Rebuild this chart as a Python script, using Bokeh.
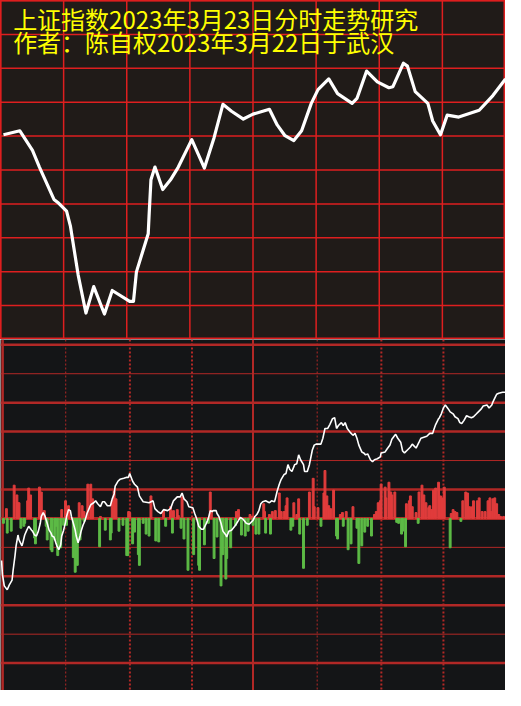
from bokeh.plotting import figure
from bokeh.models import Range1d, Span, Label
from bokeh.layouts import column
from bokeh.embed import file_html
from bokeh.resources import INLINE

# ---------------- data ----------------
title1 = "上证指数2023年3月23日分时走势研究"
title2 = "作者：陈自权2023年3月22日于武汉"

# top panel: projected path (minutes, level)
top_t = [1.4, 9.2, 15.2, 18.5, 25.4, 27.7, 31.4, 33.2, 36.9, 40.6, 44.3, 49.4, 53.1,
         61.4, 63.2, 64.6, 70.2, 70.6, 71.5, 73.4, 77.1, 80.8, 84.5, 90.9, 96.9,
         101.5, 105.7, 109.8, 115.4, 120.0, 127.8, 131.5, 135.2, 139.4, 143.1,
         147.7, 150.9, 156.0, 160.2, 167.1, 169.4, 174.0, 179.1, 184.6, 186.5,
         191.5, 193.4, 197.1, 203.1, 205.4, 209.1, 212.3, 217.8, 227.5, 234.0, 240.0]
top_v = [209, 213, 193, 176, 143, 139, 131, 116, 66, 27, 54, 26, 50,
         39, 39, 69, 108, 126, 163, 176, 153, 163, 176, 204, 175,
         206, 240, 233, 225, 230, 235, 219, 208, 203, 213,
         241, 255, 266, 251, 241, 246, 274, 263, 257, 258,
         282, 279, 253, 241, 223, 209, 229, 227, 234, 249, 266]

# bottom panel: intraday change in basis points
line_t = [0.5, 0.9, 1.8, 3.2, 4.2, 5.5, 6.0, 6.9, 7.4, 8.3, 8.8, 10.2, 10.6, 11.5, 12.5,
          13.4, 14.8, 15.2, 16.2, 17.1, 18.0, 18.9, 19.4, 20.3, 21.2, 22.2, 23.1, 24.0,
          24.5, 25.4, 26.3, 26.8, 27.7, 28.6, 29.1, 30.0, 30.9, 31.4, 32.3, 33.2, 33.7,
          34.6, 35.5, 36.0, 36.9, 37.8, 38.3, 39.2, 40.2, 41.1, 42.5, 42.9, 44.3, 45.2,
          46.2, 47.5, 48.5, 49.4, 50.8, 52.2, 53.1, 54.0, 54.5, 55.8, 56.8, 58.6, 60.0,
          60.8, 61.4, 62.8, 63.7, 65.1, 66.0, 66.9, 67.8, 70.6, 72.5, 73.4, 74.8, 76.2,
          77.5, 79.4, 80.8, 82.2, 84.0, 85.4, 86.3, 87.2, 88.6, 89.5, 91.4, 92.3, 93.2,
          94.2, 95.5, 96.5, 97.8, 98.8, 99.7, 100.6, 101.1, 102.5, 102.9, 103.8, 104.8,
          105.7, 107.1, 107.5, 108.5, 109.8, 111.7, 113.1, 114.0, 115.4, 116.8, 118.2,
          120.0, 120.9, 121.8, 122.8, 123.7, 124.6, 126.0, 126.9, 127.8, 128.8, 130.2,
          130.6, 131.5, 132.5, 133.4, 134.8, 135.7, 136.6, 137.5, 138.5, 139.8, 140.8,
          141.7, 142.6, 144.0, 144.5, 145.8, 146.8, 148.2, 149.1, 150.0, 150.9, 152.3,
          153.2, 154.2, 155.5, 156.5, 157.8, 158.8, 159.7, 160.6, 162.0, 162.9, 163.8,
          164.8, 166.2, 167.5, 168.5, 169.4, 170.3, 171.7, 172.6, 173.5, 174.5, 175.8,
          176.8, 177.7, 179.1, 180.5, 180.9, 182.8, 183.7, 185.1, 186.0, 187.4, 187.8,
          188.8, 190.2, 191.1, 192.0, 193.4, 194.8, 195.7, 196.6, 197.5, 198.9, 199.8,
          201.2, 202.6, 204.0, 205.4, 205.8, 206.8, 208.2, 208.6, 209.5, 210.5, 211.4,
          212.8, 213.7, 215.1, 216.0, 217.4, 218.3, 219.2, 220.2, 221.5, 222.5, 223.8,
          224.8, 226.2, 227.1, 228.5, 229.4, 231.2, 232.2, 233.5, 234.0, 234.9, 235.8,
          236.8, 238.6, 240.0]
line_bp = [-43, -57, -69, -73, -68, -63, -53, -38, -28, -17, -22, -28, -25, -17, -12,
           -8, -12, -13, -17, -18, -13, -5, 2, 6, 2, -5, -12, -15,
           -18, -19, -25, -28, -32, -27, -18, -12, -4, 2, 9, 8, 2,
           -5, -12, -18, -25, -18, -13, -7, -2, 5, 12, 14, 16, 18,
           15, 12, 17, 17, 13, 13, 20, 25, 33, 38, 40, 41, 42,
           42, 46, 38, 35, 32, 23, 20, 17, 16, 18, 10, 7, 5,
           9, 8, 10, 18, 22, 22, 26, 20, 17, 12, 11, 5, 0,
           -8, -11, -11, -5, 0, 8, 7, 8, 8, 5, 2, -5,
           -13, -17, -19, -13, -12, -7, -2, 1, -1, -5, -6,
           -2, 2, 4, 8, 15, 17, 18, 17, 16, 18, 17,
           20, 28, 35, 40, 45, 46, 55, 50, 48, 55, 56,
           65, 60, 55, 48, 48, 55, 70, 75, 76, 76, 76,
           82, 92, 92, 96, 102, 103, 92, 95, 98, 95, 98,
           92, 88, 85, 87, 82, 75, 68, 67, 65, 66, 60,
           58, 60, 61, 63, 67, 68, 71, 75, 81, 85, 86,
           82, 78, 69, 67, 70, 73, 76, 74, 72, 78, 82,
           83, 84, 87, 87, 90, 96, 102, 103, 107, 113, 116,
           112, 109, 107, 104, 102, 98, 97, 100, 105, 104, 103,
           104, 107, 109, 112, 115, 116, 113, 116, 119, 123, 127,
           128, 129, 129]

# volume bars: buying (up) and selling (down)
up_t = [2.8, 6.5, 7.8, 8.3, 8.8, 12.9, 13.4, 14.3, 18.5, 19.4, 20.8, 29.1, 30.9, 32.3,
        37.4, 38.8, 39.7, 41.5, 42.9, 43.8, 47.5, 53.1, 54.0, 54.9, 60.9, 61.4, 71.5,
        77.5, 80.8, 82.2, 84.0, 84.5, 86.3, 99.7, 100.2, 112.1, 113.1, 118.6, 119.5,
        125.1, 125.5, 127.8, 129.2, 130.6, 132.5, 133.4, 134.8, 135.7, 136.2, 139.4,
        140.8, 141.7, 146.8, 148.6, 149.1, 150.9, 153.7, 154.2, 155.1, 156.0, 156.9,
        158.3, 161.5, 162.5, 164.3, 167.5, 177.7, 178.6, 179.5, 180.5, 180.9, 182.8,
        183.2, 184.6, 185.5, 186.0, 187.4, 192.9, 194.3, 194.8, 195.7, 197.5, 198.9,
        200.3, 201.2, 202.2, 203.5, 204.0, 204.9, 205.8, 206.8, 208.2, 209.1, 210.0,
        210.9, 214.2, 215.1, 216.0, 216.9, 219.7, 221.1, 222.0, 222.9, 224.3, 224.8,
        226.6, 227.5, 228.9, 230.3, 231.7, 232.6, 233.1, 234.0, 234.9, 235.8, 236.8,
        237.7, 239.1]
up_vol = [10, 34, 24, 16, 16, 18, 31, 24, 32, 27, 8, 9, 18, 13,
          16, 13, 7, 35, 35, 20, 2, 18, 28, 20, 7, 6, 23,
          8, 12, 8, 9, 3, 22, 27, 8, 7, 9, 4, 2,
          15, 7, 4, 7, 8, 26, 7, 7, 13, 21, 16,
          4, 20, 27, 41, 12, 11, 26, 49, 23, 13, 10,
          29, 4, 6, 7, 12, 4, 7, 16, 18, 35, 32,
          21, 37, 27, 24, 27, 15, 18, 23, 12, 6, 27,
          34, 24, 16, 11, 13, 9, 29, 31, 37, 23, 21,
          32, 5, 9, 7, 6, 18, 27, 26, 12, 12, 18,
          18, 21, 7, 7, 18, 21, 7, 20, 21, 15, 4,
          2, 2]
dn_t = [1.4, 3.2, 5.1, 9.7, 11.1, 11.5, 16.2, 16.6, 21.7, 22.2, 24.0, 24.5, 25.8, 26.3,
        27.2, 28.6, 30.0, 31.4, 34.6, 35.5, 36.5, 37.8, 39.7, 47.1, 49.8, 52.2, 52.6,
        56.3, 58.2, 60.0, 60.5, 62.8, 63.7, 65.5, 66.0, 67.8, 69.2, 70.6, 73.8, 75.2,
        78.5, 81.7, 85.8, 87.2, 89.1, 91.8, 94.2, 94.6, 96.9, 98.8, 101.5, 102.9, 104.8,
        105.7, 107.1, 107.5, 109.4, 111.7, 114.5, 116.3, 117.7, 120.0, 121.4, 122.8,
        126.0, 128.3, 138.0, 138.9, 142.2, 144.0, 145.8, 152.3, 159.7, 160.2, 162.9,
        165.2, 166.6, 169.4, 170.3, 171.7, 173.1, 174.5, 176.3, 188.3, 189.2, 190.6,
        191.1, 192.5, 198.5, 213.7, 218.8]
dn_vol = [-5, -15, -13, -10, -8, -5, -20, -26, -8, -22, -32, -34, -22, -8,
          -38, -30, -7, -7, -40, -55, -48, -22, -3, -29, -12, -22, -15,
          -13, -7, -38, -38, -26, -14, -37, -48, -5, -16, -18, -23, -24,
          -8, -15, -10, -21, -53, -37, -48, -53, -27, -5, -41, -19, -69,
          -37, -62, -41, -30, -7, -17, -18, -13, -7, -16, -16,
          -15, -16, -12, -8, -16, -51, -7, -8, -18, -21, -8,
          -32, -26, -10, -46, -28, -14, -8, -18, -4, -5, -16,
          -13, -29, -5, -30, -3]

# ---------------- style ----------------
W = 505
H_TOP = 339
H_BOT = 351
TOP_BG = "#201b18"
BOT_BG = "#141517"
GRID_RED = "#de1f1f"
DARK_RED = "#b22826"
UP_RED = "#e03c3c"
DN_GREEN = "#5dbb46"
CJK = "Noto Sans CJK SC"

# ---------------- top panel ----------------
p1 = figure(width=W, height=H_TOP, x_range=Range1d(0, 240), y_range=Range1d(0, 346),
            output_backend="svg", toolbar_location=None, min_border=0,
            x_axis_location=None, y_axis_location=None,
            background_fill_color=TOP_BG, border_fill_color=TOP_BG,
            outline_line_color=GRID_RED, outline_line_width=2)
p1.grid.visible = False
for k in range(11):
    p1.add_layout(Span(location=k * 34.6, dimension="width", line_color=GRID_RED,
                       line_width=1.5, level="underlay"))
for k in range(9):
    p1.add_layout(Span(location=k * 30, dimension="height", line_color=GRID_RED,
                       line_width=1.5, level="underlay"))

p1.line(top_t, top_v, line_color="white", line_width=3.2, line_join="round")

for txt, yy in ((title1, 328), (title2, 304)):
    p1.add_layout(Label(x=6, y=yy, text=txt, text_font=CJK, text_font_size="24px",
                        text_color="#ffff00", text_baseline="middle"))

# ---------------- bottom panel ----------------
p2 = figure(width=W, height=H_BOT, x_range=Range1d(0, 240), y_range=Range1d(-176, 183),
            output_backend="svg", toolbar_location=None, min_border=0,
            x_axis_location=None, y_axis_location=None,
            background_fill_color=BOT_BG, border_fill_color=BOT_BG,
            outline_line_color=None)
p2.grid.visible = False
p2.extra_y_ranges = {"vol": Range1d(-176, 183)}

for k in range(-5, 7):
    thin = (k - 2) % 3 == 0
    lw = 1 if thin else 2.5
    if k == 0:
        lw = 3
    p2.add_layout(Span(location=k * 29.6, dimension="width", line_color=DARK_RED,
                       line_width=lw, level="underlay"))

p2.add_layout(Span(location=1.0, dimension="height", line_color=DARK_RED,
                   line_width=2.5, level="underlay"))
p2.add_layout(Span(location=120, dimension="height", line_color=DARK_RED,
                   line_width=2, level="underlay"))
for loc, lw in ((31, 1), (61.5, 2), (91, 2), (150.5, 1), (181, 2), (210.5, 2)):
    p2.add_layout(Span(location=loc, dimension="height", line_color=DARK_RED,
                       line_width=lw, line_dash="2 2", level="underlay"))

p2.vbar(x=up_t, top=up_vol, bottom=0, width=0.9, color=UP_RED, y_range_name="vol")
p2.vbar(x=dn_t, top=0, bottom=dn_vol, width=0.9, color=DN_GREEN, y_range_name="vol")
p2.line(line_t, line_bp, line_color="white", line_width=1.6)

layout = column(p1, p2, spacing=0)
open("out.html", "w").write(file_html(layout, INLINE))
